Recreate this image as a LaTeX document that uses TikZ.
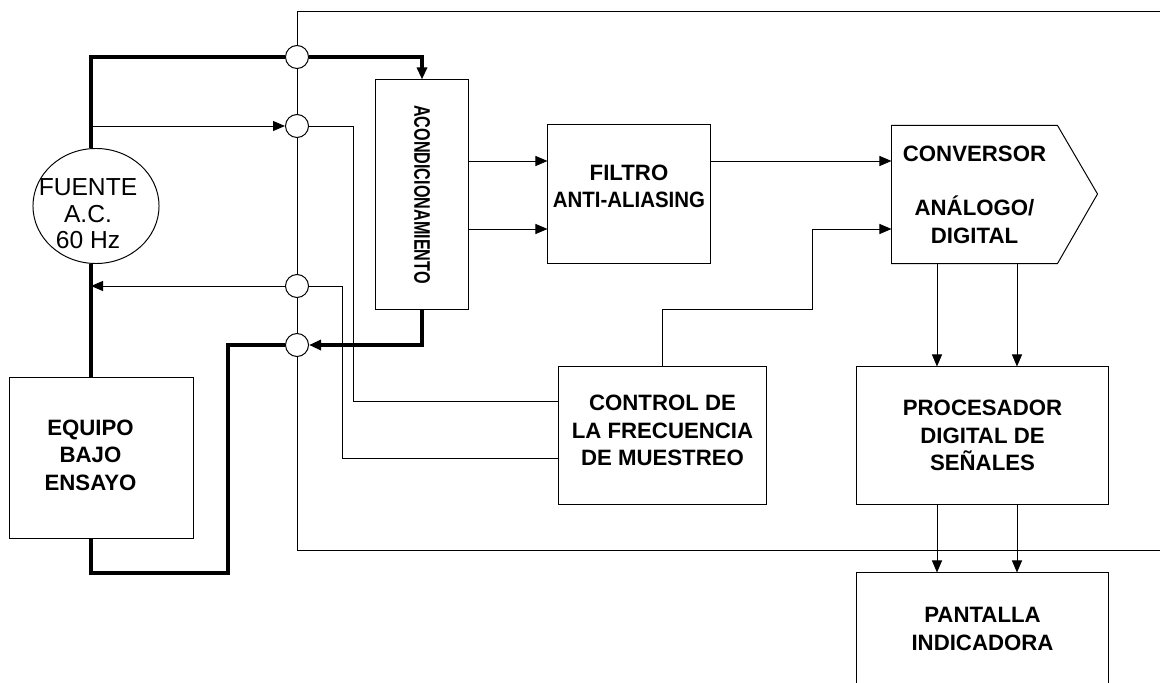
\documentclass[tikz,border=0pt]{standalone}
\usepackage{fontspec}
\setmainfont{Liberation Sans}
\usetikzlibrary{shapes.geometric, arrows.meta, positioning}
\tikzset{
    blocktext/.style={align=center, inner sep=0pt, font=\bfseries\fontsize{15.8}{19.5}\selectfont},
    block/.style={rectangle, draw=black, line width=0.7pt, blocktext},
    srctext/.style={align=center, inner sep=0pt, font=\fontsize{17.5}{18.8}\selectfont},
    source/.style={ellipse, draw=black, line width=0.7pt, inner sep=0pt, minimum width=3.15cm, minimum height=2.875cm},
    junction/.style={circle, draw=black, fill=white, line width=0.7pt, minimum size=0.575cm, inner sep=0pt},
    wire/.style={line width=0.7pt},
    power/.style={line width=2.6pt},
    arrow/.style={-{Triangle[length=0.3cm,width=0.25cm]}}
}
\begin{document}
\begin{tikzpicture}[x=0.025cm, y=-0.025cm]
    \clip (0,0) rectangle (1160,683);
    % bloques
    \node (fuente) [source, label={[srctext, xshift=-0.2cm, yshift=-0.2cm]center:FUENTE\\A.C.\\60 Hz}] at (96,206) {};
    \node (equipo) [block, minimum width=4.575cm, minimum height=4cm, label={[blocktext, xshift=-0.275cm, yshift=0.075cm]center:EQUIPO\\BAJO\\ENSAYO}] at (101.5,458) {};
    \node (acond) [block, minimum width=2.3cm, minimum height=5.725cm] at (422,194.5) {\rotatebox{-90}{\scalebox{0.72}[1]{\fontsize{16}{18}\selectfont ACONDICIONAMIENTO}}};
    \node (filtro) [block, minimum width=4.05cm, minimum height=3.45cm, text depth=0.4cm] at (629,194) {FILTRO\\\scalebox{0.92}[1]{ANTI-ALIASING}};
    \node (conv) [block, draw=none, minimum width=4.125cm, minimum height=3.425cm] at (974.5,194.5) {CONVERSOR\\[19.5pt]ANÁLOGO/\\DIGITAL};
    \draw [wire] (conv.north west) -- (conv.north east) -- ++(40,68.5) -- (conv.south east) -- (conv.south west) -- cycle;
    \node (control) [block, minimum width=5.175cm, minimum height=3.425cm, text depth=0.25cm] at (662.5,435.5) {CONTROL DE\\LA FRECUENCIA\\DE MUESTREO};
    \node (proc) [block, minimum width=6.275cm, minimum height=3.425cm] at (982.5,435.5) {PROCESADOR\\DIGITAL DE\\SEÑALES};
    \node (pantalla) [block, minimum width=6.275cm, minimum height=2.8cm] at (982.5,629) {PANTALLA\\INDICADORA};

    % uniones
    \node (j1) [junction] at (297,57) {};
    \node (j2) [junction] at (297,126) {};
    \node (j3) [junction] at (297,286) {};
    \node (j4) [junction] at (297,345) {};

    \coordinate (bus) at (91,0);
    \coordinate (topR) at (1160,11);
    \coordinate (botR) at (1160,550);
    \coordinate (lazo) at (228,573);
    \coordinate (c2) at (353,401);
    \coordinate (c3) at (342,458);
    \coordinate (reloj) at (812,309);
    \coordinate (y1) at (0,161);
    \coordinate (y2) at (0,229);
    \coordinate (xa) at (937,0);
    \coordinate (xb) at (1017,0);

    % potencia
    \draw [power] (fuente.north -| bus) |- (j1);
    \draw [power, arrow] (j1) -| (acond.north);
    \draw [power] (fuente.south -| bus) -- (equipo.north -| bus);
    \draw [power, arrow] (acond.south) |- (j4);
    \draw [power] (j4) -| (lazo) -| (equipo.south -| bus);

    % muestreo
    \draw [wire, arrow] (bus |- j2) -- (j2);
    \draw [wire] (j2) -| (c2) -- (control.west |- c2);
    \draw [wire] (j3) -| (c3) -- (control.west |- c3);
    \draw [wire, arrow] (j3) -- (bus |- j3);

    % referencia
    \draw [wire] (topR) -| (j1);
    \draw [wire] (j1) -- (j2);
    \draw [wire] (j2) -- (j3);
    \draw [wire] (j3) -- (j4);
    \draw [wire] (j4) |- (botR);

    % adquisicion
    \draw [wire, arrow] (acond.east |- y1) -- (filtro.west |- y1);
    \draw [wire, arrow] (acond.east |- y2) -- (filtro.west |- y2);
    \draw [wire, arrow] (filtro.east |- y1) -- (conv.west |- y1);
    \draw [wire, arrow] (control.north) |- (reloj) |- (conv.west |- y2);
    \draw [wire, arrow] (conv.south -| xa) -- (proc.north -| xa);
    \draw [wire, arrow] (conv.south -| xb) -- (proc.north -| xb);
    \draw [wire, arrow] (proc.south -| xa) -- (pantalla.north -| xa);
    \draw [wire, arrow] (proc.south -| xb) -- (pantalla.north -| xb);
\end{tikzpicture}
\end{document}
